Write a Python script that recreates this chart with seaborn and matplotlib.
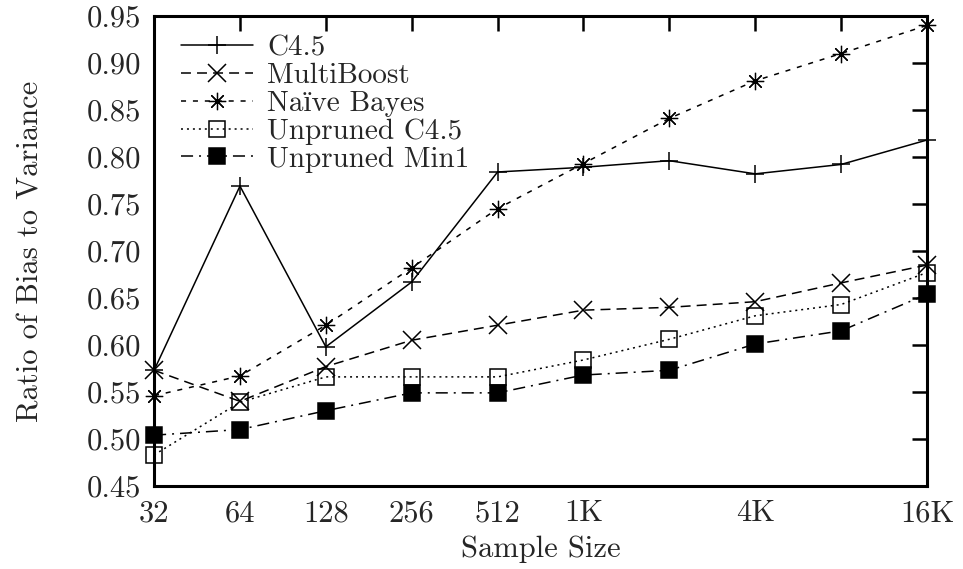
import matplotlib
matplotlib.use("Agg")
import matplotlib.pyplot as plt
import seaborn as sns
import pandas as pd

# Training-set sizes (log2 spaced) and bias/variance ratios per learner
sample_sizes = [32, 64, 128, 256, 512, 1024, 2048, 4096, 8192, 16384]
c45 = [0.573, 0.769, 0.598, 0.667, 0.784, 0.789, 0.796, 0.782, 0.792, 0.818]
multiboost = [0.573, 0.540, 0.577, 0.605, 0.621, 0.637, 0.640, 0.646, 0.666, 0.685]
naive_bayes = [0.546, 0.567, 0.621, 0.682, 0.745, 0.793, 0.841, 0.881, 0.910, 0.940]
unpruned_c45 = [0.483, 0.539, 0.566, 0.566, 0.566, 0.584, 0.606, 0.631, 0.643, 0.677]
unpruned_min1 = [0.504, 0.510, 0.530, 0.549, 0.549, 0.568, 0.573, 0.601, 0.615, 0.654]

series_names = ["C4.5", "MultiBoost", "Naïve Bayes", "Unpruned C4.5", "Unpruned Min1"]
series_values = [c45, multiboost, naive_bayes, unpruned_c45, unpruned_min1]

x_tick_labels = ["32", "64", "128", "256", "512", "1K", "", "4K", "", "16K"]
y_ticks = [0.45, 0.50, 0.55, 0.60, 0.65, 0.70, 0.75, 0.80, 0.85, 0.90, 0.95]

sns.set_style("white")
plt.rcParams["font.family"] = ["cmr10", "Liberation Serif", "DejaVu Serif"]
plt.rcParams["mathtext.fontset"] = "cm"
plt.rcParams["axes.unicode_minus"] = False
plt.rcParams["axes.formatter.use_mathtext"] = True

FS = 22
LEG_FS = 21

# gnuplot-like line types: solid, long dash, short dash, dotted, dash-dot
styles = {
    "C4.5": dict(linestyle="-", marker="+", mfc="none", ms=12.5, mew=1.1),
    "MultiBoost": dict(linestyle=(0, (6.5, 4.0)), marker="x", mfc="none", ms=12.5, mew=1.1),
    "Naïve Bayes": dict(linestyle=(0, (3.3, 4.5)), marker=(8, 2, 0), mfc="none", ms=12.5, mew=0.9),
    "Unpruned C4.5": dict(linestyle=(0, (1.3, 2.6)), marker="s", mfc="none", ms=11.5, mew=1.1),
    "Unpruned Min1": dict(linestyle=(0, (7.9, 3.9, 1.3, 3.9)), marker="s", mfc="black", ms=11.5, mew=1.1),
}

frame = pd.DataFrame({"size": sample_sizes})
for name, vals in zip(series_names, series_values):
    frame[name] = vals

fig = plt.figure(figsize=(9.63, 5.69), dpi=100)
ax = fig.add_axes([0.160, 0.146, 0.8026, 0.826])

for name in series_names:
    st = styles[name]
    sns.lineplot(
        data=frame, x="size", y=name, ax=ax, label=name,
        color="black", linewidth=1.1,
        linestyle=st["linestyle"], marker=st["marker"],
        markersize=st["ms"], markeredgewidth=st["mew"],
        markerfacecolor=st["mfc"], markeredgecolor="black",
        clip_on=False, zorder=3,
    )

ax.set_xscale("log", base=2)
ax.set_xlim(32, 16384)
ax.set_ylim(0.45, 0.95)
ax.set_xticks(sample_sizes)
ax.set_xticklabels(x_tick_labels)
ax.xaxis.set_minor_locator(matplotlib.ticker.NullLocator())
ax.set_yticks(y_ticks)
ax.set_yticklabels([f"{v:.2f}" for v in y_ticks])

ax.tick_params(axis="both", which="major", direction="in", length=11,
               width=1.8, top=True, right=True, labelsize=FS, color="black")
ax.tick_params(axis="y", pad=9)
ax.tick_params(axis="x", pad=10)
for sp in ax.spines.values():
    sp.set_visible(True)
    sp.set_linewidth(2.2)
    sp.set_color("black")

ax.set_xlabel("Sample Size", fontsize=FS, labelpad=6)
ax.set_ylabel("Ratio of Bias to Variance", fontsize=FS, labelpad=31)

leg = ax.legend(loc="upper left", bbox_to_anchor=(0.02, 0.985), frameon=False,
                fontsize=LEG_FS, handlelength=2.45, handletextpad=0.5,
                labelspacing=0.05, borderaxespad=0.0, numpoints=1)

fig.savefig("out.png", dpi=100, facecolor="white")
